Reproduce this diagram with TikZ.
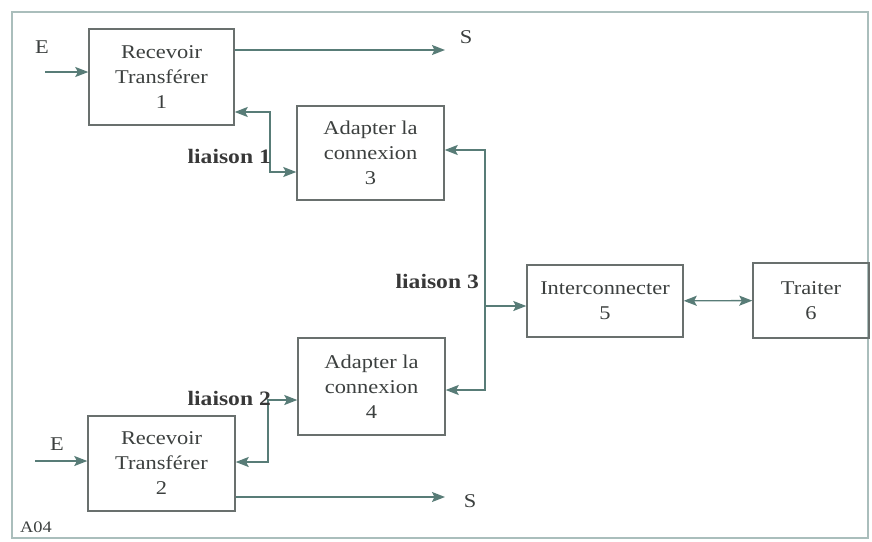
\documentclass[tikz,border=0pt]{standalone}
\usepackage{fontspec}
\setmainfont[FakeStretch=1.15]{Liberation Serif}
\usepackage{tikz}
\usetikzlibrary{arrows.meta}
\definecolor{linegray}{RGB}{88,124,119}
\definecolor{boxgray}{RGB}{105,112,110}
\definecolor{textgray}{RGB}{60,64,63}
\definecolor{framegray}{RGB}{170,190,188}

\begin{document}
\begin{tikzpicture}[x=1pt, y=-1pt,
    every node/.style={font=\fontsize{19.5}{25}\selectfont, text=textgray},
    bloc/.style={draw=boxgray, line width=1.4pt, align=center, inner sep=0pt},
    fleche/.style={draw=linegray, line width=1.4pt, -{Stealth[length=13pt,width=10pt,inset=2.5pt]}},
    double fleche/.style={fleche, {Stealth[length=13pt,width=10pt,inset=2.5pt]}-{Stealth[length=13pt,width=10pt,inset=2.5pt]}},
    lien/.style={font=\bfseries\fontsize{20.5}{24}\selectfont, text=black!78, inner sep=0pt, anchor=east}]
        \useasboundingbox (0,0) rectangle (872,541);
        \draw[framegray, line width=1.2pt] (12,12) rectangle (868,538);
        % blocs
        \node[bloc, minimum width=145, minimum height=96] (recv1) at (161.5,77) {Recevoir\\Transférer\\1};
        \node[bloc, minimum width=147, minimum height=95] (recv2) at (161.5,463.5) {Recevoir\\Transférer\\2};
        \node[bloc, minimum width=147, minimum height=94] (adapt3) at (370.5,153) {Adapter la\\connexion\\3};
        \node[bloc, minimum width=147, minimum height=97] (adapt4) at (371.5,386.5) {Adapter la\\connexion\\4};
        \node[bloc, minimum width=156, minimum height=72] (inter5) at (605,301) {Interconnecter\\5};
        \node[bloc, minimum width=116, minimum height=75] (trait6) at (811,300.5) {Traiter\\6};
        % entrees et sorties
        \node (e1) at (42,47) {E};
        \node (e2) at (57,444) {E};
        \node (s1) at (466,37) {S};
        \node (s2) at (470,501) {S};
        \coordinate (in1) at (45,72);
        \coordinate (in2) at (35,461);
        \coordinate (out1) at (445,50);
        \coordinate (out2) at (445,497);
        \draw[fleche] (in1) -- (in1 -| recv1.west);
        \draw[fleche] (in2) -- (in2 -| recv2.west);
        \draw[fleche] (out1 -| recv1.east) -- (out1);
        \draw[fleche] (out2 -| recv2.east) -- (out2);
        % liaison 1
        \coordinate (l1a) at (270,112);
        \coordinate (l1b) at (270,172);
        \draw[double fleche] (l1a -| recv1.east) -- (l1a) -- (l1b) -- (l1b -| adapt3.west);
        \node[lien] (liaison1) at (271,156) {liaison 1};
        % liaison 2
        \coordinate (l2a) at (268,400);
        \coordinate (l2b) at (268,462);
        \draw[double fleche] (l2b -| recv2.east) -- (l2b) -- (l2a) -- (l2a -| adapt4.west);
        \node[lien] (liaison2) at (271,398) {liaison 2};
        % liaison 3
        \coordinate (l3a) at (485,150);
        \coordinate (l3b) at (485,390);
        \coordinate (l3c) at (485,306);
        \draw[double fleche] (l3a -| adapt3.east) -- (l3a) -- (l3b) -- (l3b -| adapt4.east);
        \draw[fleche] (l3c) -- (l3c -| inter5.west);
        \node[lien] (liaison3) at (479,281) {liaison 3};
        % interconnexion
        \draw[double fleche] (inter5) -- (trait6);
        \node[font=\fontsize{16}{18}\selectfont] (a04) at (36,527) {A04};
      \end{tikzpicture}
\end{document}
